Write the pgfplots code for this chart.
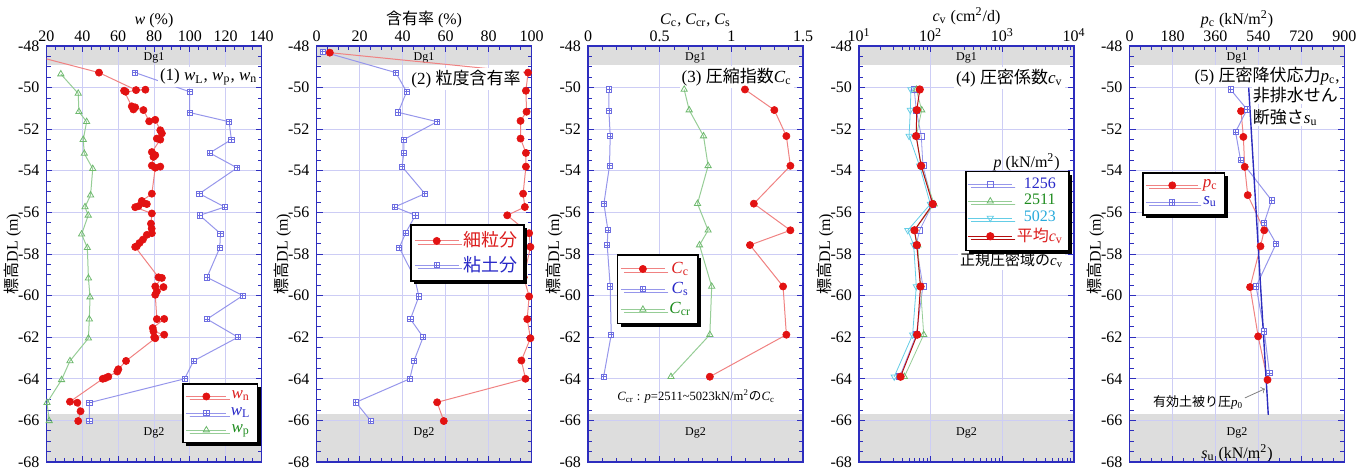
\documentclass[border=0pt]{standalone}
\usepackage{pgfplots}
\pgfplotsset{compat=1.18}
\usepackage{fontspec}
\setmainfont{Liberation Serif}
\newfontfamily\jp{Noto Sans CJK JP}
\usetikzlibrary{shadows}
\definecolor{redm}{RGB}{226,18,18}
\definecolor{redl}{RGB}{240,130,130}
\definecolor{bluem}{RGB}{110,110,225}
\definecolor{bluel}{RGB}{150,150,235}
\definecolor{greenm}{RGB}{110,185,110}
\definecolor{greenl}{RGB}{150,205,150}
\definecolor{cyanm}{RGB}{100,205,230}
\definecolor{axc}{RGB}{45,45,190}
\definecolor{gridc}{RGB}{205,205,245}
\definecolor{bandc}{RGB}{221,221,221}
\definecolor{legred}{RGB}{220,30,30}
\definecolor{legblue}{RGB}{40,40,200}
\definecolor{leggreen}{RGB}{30,140,30}
\definecolor{legcyan}{RGB}{40,170,220}
\newcommand{\sub}[2]{\textit{#1}\textsubscript{#2}}
\pgfdeclareplotmark{boxplus}{%
  \pgfpathrectangle{\pgfpoint{-\pgfplotmarksize}{-\pgfplotmarksize}}{\pgfpoint{2\pgfplotmarksize}{2\pgfplotmarksize}}%
  \pgfusepathqfillstroke
  \pgfpathmoveto{\pgfpoint{-\pgfplotmarksize}{0pt}}\pgfpathlineto{\pgfpoint{\pgfplotmarksize}{0pt}}%
  \pgfpathmoveto{\pgfpoint{0pt}{-\pgfplotmarksize}}\pgfpathlineto{\pgfpoint{0pt}{\pgfplotmarksize}}%
  \pgfusepathqstroke}
\tikzset{
  ann/.style={fill=white, inner sep=1pt, anchor=east, font=\fontsize{8.5}{10}\selectfont},
  dg/.style={font=\fontsize{6}{7}\selectfont},
}
\pgfplotsset{
  leglen/.style={legend image code/.code={%
    \draw[mark repeat=2,mark phase=2] plot coordinates {(0pt,0pt) (#1,0pt) (2*#1,0pt)};}},
  panel/.style={
    set layers,
    scale only axis, width=107.5pt, height=208pt,
    anchor=north west,
    ymin=-68, ymax=-48,
    ytick={-68,-66,...,-48},
    yticklabels={-68,-66,-64,-62,-60,-58,-56,-54,-52,-50,-48},
    minor y tick num=3,
    xticklabel pos=upper,
    grid=major,
    major grid style={draw=gridc, line width=0.5pt},
    axis line style={draw=axc, line width=0.9pt},
    tick style={draw=axc, line width=0.5pt},
    major tick length=3pt, minor tick length=2pt,
    tick label style={font=\fontsize{8}{9}\selectfont},
    xticklabel style={yshift=-1.5pt},
    label style={font=\fontsize{8}{9}\selectfont},
    xlabel style={yshift=-5pt},
    ylabel={{\jp 標高}DL (m)},
    ylabel style={at={(axis description cs:0,0.5)}, anchor=center, yshift=17pt},
    /pgf/number format/assume math mode=true,
    legend style={draw=black, line width=0.8pt, fill=white,
      font=\fontsize{8.5}{9.5}\selectfont,
      drop shadow={shadow xshift=1.6pt, shadow yshift=-1.6pt, fill=black, opacity=1},
      inner sep=1.5pt, row sep=-1pt},
  },
  rl/.style={redl, line width=0.5pt, mark=*, mark size=1.8pt, mark options={fill=redm, draw=redm, line width=0.3pt}},
  bl/.style={bluel, line width=0.5pt, mark=boxplus, mark size=1.3pt, mark options={draw=bluem, fill=white, line width=0.4pt}},
  gl/.style={greenl, line width=0.5pt, mark=triangle, mark size=1.8pt, mark options={draw=greenm, fill=white, line width=0.4pt}},
}
\begin{document}
\begin{tikzpicture}
% ---------------- Panel 1 ----------------
\begin{axis}[panel, at={(23.25pt,-23pt)},
  xmin=20, xmax=140, xtick={20,40,...,140}, minor x tick num=3,
  xlabel={\textit{w} (\%)},
  legend style={at={(0.985,0.045)}, anchor=south east},
  leglen=10pt]
\begin{pgfonlayer}{axis background}
\fill[bandc] (axis cs:20,-48) rectangle (axis cs:140,-48.9);
\fill[bandc] (axis cs:20,-65.7) rectangle (axis cs:140,-68);
\end{pgfonlayer}
\node[dg] at (axis cs:80,-48.55) {Dg1};
\node[dg] at (axis cs:80,-66.6) {Dg2};
\addplot[rl] coordinates {
(8,-48.35) (49.3,-49.28) (70.0,-50.12) (75.2,-50.1) (64.2,-50.2) (63.3,-50.15)
(67.6,-50.9) (68.5,-51.05) (69.5,-50.95) (74.1,-51.08)
(77.3,-51.62) (80.7,-51.55)
(83.5,-52.05) (84.4,-52.2) (81.6,-52.45) (83.5,-52.5)
(78.8,-53.1) (80.7,-53.25) (79.7,-53.33)
(78.8,-53.75) (83.5,-53.8) (80.7,-53.85)
(78.8,-55.1)
(73.2,-55.45) (74.1,-55.55) (76.0,-55.6) (71.3,-55.7) (69.5,-55.75)
(78.8,-56.05)
(78.3,-56.54) (78.7,-56.78) (78.8,-57.0) (76.0,-57.08) (73.8,-57.31) (71.9,-57.47) (70.4,-57.63) (69.5,-57.66)
(82.5,-59.12) (84.4,-59.15) (80.7,-59.56) (85.3,-59.59) (81.6,-59.8) (80.7,-59.96)
(81.6,-61.13) (85.7,-61.12) (79.3,-61.56) (79.7,-61.72) (85.7,-61.88) (80.1,-62.0) (80.7,-62.05)
(64.4,-63.14) (60.1,-63.54) (59.5,-63.65) (54.5,-63.9) (52.7,-63.97) (51.4,-64.0)
(33.1,-65.1) (37.2,-65.15) (39.0,-65.56) (37.7,-66.03)
};
\addlegendentry{\textcolor{legred}{\sub{w}{n}}}
\addplot[bl] coordinates {
(69.5,-49.28) (99.9,-50.2) (99.9,-51.2) (121.9,-51.64) (123.2,-52.5) (111.1,-53.14)
(126.4,-53.86) (105.3,-55.1) (119.5,-55.74) (105.5,-56.14) (117.1,-57.02) (116.7,-57.7)
(109.6,-59.12) (129.6,-60.0) (109.6,-61.13) (126.9,-62.0) (102.1,-63.14) (97.1,-64.0)
(43.9,-65.15) (43.9,-66.03)
};
\addlegendentry{\textcolor{legblue}{\sub{w}{L}}}
\addplot[gl] coordinates {
(28.0,-49.35) (37.7,-50.28) (38.1,-51.16) (42.4,-51.64) (40.5,-52.5) (41.1,-53.17)
(45.8,-53.9) (44.6,-55.17) (41.5,-55.74) (43.3,-56.14) (39.6,-57.05) (42.8,-57.7)
(43.4,-59.16) (44.3,-60.07) (43.9,-61.13) (43.4,-62.05) (33.1,-63.14) (28.4,-64.05)
(20.3,-65.15) (21.5,-66.02)
};
\addlegendentry{\textcolor{leggreen}{\sub{w}{p}}}
\node[ann] at (axis cs:139,-49.5) {(1) \sub{w}{L}, \sub{w}{p}, \sub{w}{n}};
\end{axis}
% ---------------- Panel 2 ----------------
\begin{axis}[panel, at={(158.25pt,-23pt)},
  xmin=0, xmax=100, xtick={0,20,...,100}, minor x tick num=3,
  xlabel={{\jp 含有率} (\%)},
  legend style={at={(0.97,0.572)}, anchor=north east, font=\fontsize{9}{10}\selectfont},
  leglen=11pt]
\begin{pgfonlayer}{axis background}
\fill[bandc] (axis cs:0,-48) rectangle (axis cs:100,-48.9);
\fill[bandc] (axis cs:0,-65.7) rectangle (axis cs:100,-68);
\end{pgfonlayer}
\node[dg] at (axis cs:50,-48.55) {Dg1};
\node[dg] at (axis cs:50,-66.6) {Dg2};
\addplot[rl] coordinates {
(6.2,-48.32) (98.4,-49.28) (97.4,-50.15) (97.7,-51.16) (94.9,-51.6) (94.9,-52.45)
(97.4,-53.14) (97.4,-53.8) (96.1,-55.1) (96.9,-55.74) (88.7,-56.14) (98.9,-57.0)
(99.5,-57.66) (96.4,-59.12) (98.9,-60.04) (98.0,-61.13) (99.5,-62.05) (95.3,-63.12)
(97.2,-64.0) (56.1,-65.13) (59.2,-66.03)
};
\addlegendentry{\textcolor{legred}{\jp 細粒分}}
\addplot[bl] coordinates {
(2.8,-48.27) (36.9,-49.28) (41.9,-50.2) (38.0,-51.19) (56.1,-51.64) (40.6,-52.5)
(40.6,-53.14) (39.8,-53.8) (50.4,-55.1) (36.4,-55.74) (46.0,-56.14) (41.4,-57.0)
(38.5,-57.7) (45.7,-59.16) (47.6,-60.04) (43.7,-61.13) (49.6,-62.0) (45.4,-63.12)
(43.4,-64.0) (18.3,-65.13) (25.3,-66.03)
};
\addlegendentry{\textcolor{legblue}{\jp 粘土分}}
\node[ann] at (axis cs:96,-49.6) {(2) {\jp 粒度含有率}};
\end{axis}
% ---------------- Panel 3 ----------------
\begin{axis}[panel, at={(294pt,-23pt)},
  xmin=0, xmax=1.5, xtick={0,0.5,1,1.5}, xticklabels={0,0.5,1,1.5}, minor x tick num=4,
  xlabel={\sub{C}{c}, \sub{C}{cr}, \sub{C}{s}},
  legend style={at={(0.133,0.5)}, anchor=north west},
  leglen=11pt]
\begin{pgfonlayer}{axis background}
\fill[bandc] (axis cs:0,-48) rectangle (axis cs:1.5,-48.9);
\fill[bandc] (axis cs:0,-65.7) rectangle (axis cs:1.5,-68);
\end{pgfonlayer}
\node[dg] at (axis cs:0.75,-48.55) {Dg1};
\node[dg] at (axis cs:0.75,-66.6) {Dg2};
\addplot[rl] coordinates {
(1.095,-50.09) (1.30,-51.08) (1.384,-52.33) (1.412,-53.76) (1.157,-55.58)
(1.412,-56.86) (1.13,-57.57) (1.361,-59.56) (1.384,-61.88) (0.85,-63.9)
};
\addlegendentry{\textcolor{legred}{\sub{C}{c}}}
\addplot[bl] coordinates {
(0.146,-50.09) (0.146,-51.11) (0.155,-52.33) (0.150,-53.76) (0.111,-55.58)
(0.139,-56.86) (0.134,-57.57) (0.155,-59.56) (0.162,-61.88) (0.109,-63.9)
};
\addlegendentry{\textcolor{legblue}{\sub{C}{s}}}
\addplot[gl] coordinates {
(0.671,-50.09) (0.706,-51.08) (0.806,-52.33) (0.838,-53.76) (0.764,-55.58)
(0.838,-56.86) (0.778,-57.57) (0.863,-59.56) (0.85,-61.88) (0.579,-63.9)
};
\addlegendentry{\textcolor{leggreen}{\sub{C}{cr}}}
\node[ann] at (axis cs:1.437,-49.5) {(3) {\jp 圧縮指数}\sub{C}{c}};
\node[font=\fontsize{6.3}{7}\selectfont, inner sep=0pt] at (axis cs:0.755,-64.86)
  {\sub{C}{cr} : \textit{p}=2511\textasciitilde 5023kN/m\textsuperscript{2}{\jp の}\sub{C}{c}};
\end{axis}
% ---------------- Panel 4 ----------------
\begin{axis}[panel, at={(429.5pt,-23pt)},
  xmode=log, xmin=10, xmax=10000, xtick={10,100,1000,10000},
  xticklabels={10\textsuperscript{1},10\textsuperscript{2},10\textsuperscript{3},10\textsuperscript{4}},
  xlabel={\sub{c}{v} (cm\textsuperscript{2}/d)},
  legend style={at={(0.98,0.70)}, anchor=north east, font=\fontsize{8}{8.5}\selectfont, row sep=-2.4pt, inner sep=1pt},
  leglen=11pt]
\begin{pgfonlayer}{axis background}
\fill[bandc] (axis cs:10,-48) rectangle (axis cs:10000,-48.9);
\fill[bandc] (axis cs:10,-65.7) rectangle (axis cs:10000,-68);
\end{pgfonlayer}
\node[dg] at (axis cs:316,-48.55) {Dg1};
\node[dg] at (axis cs:316,-66.6) {Dg2};
\addplot[bluel, line width=0.4pt, mark=square, mark size=1.5pt, mark options={draw=bluem, fill=white}] coordinates {
(59,-50.09) (63,-51.08) (74,-52.33) (78,-53.76) (107,-55.6) (70,-56.86) (63,-57.57) (78,-59.56) (63,-61.88) (37,-63.9)
};
\addlegendentry{\textcolor{legblue}{1256}}
\addplot[greenl, line width=0.4pt, mark=triangle, mark size=1.8pt, mark options={draw=greenm, fill=white}] coordinates {
(63,-50.09) (75,-51.08) (63,-52.33) (74,-53.76) (112,-55.6) (59,-56.86) (66,-57.57) (72,-59.56) (80,-61.88) (43,-63.9)
};
\addlegendentry{\textcolor{leggreen}{2511}}
\addplot[cyanm, line width=0.4pt, mark=triangle, mark size=1.8pt, mark options={draw=cyanm, fill=white, rotate=180}] coordinates {
(53,-50.09) (52,-51.08) (50,-52.33) (70,-53.76) (99,-55.6) (48,-56.86) (58,-57.57) (63,-59.56) (56,-61.88) (31,-63.9)
};
\addlegendentry{\textcolor{legcyan}{5023}}
\addplot[redm!80!black, line width=0.5pt, mark=*, mark size=1.8pt, mark options={fill=redm, draw=redm}] coordinates {
(70.5,-50.09) (64.1,-51.08) (62.7,-52.33) (73.6,-53.76) (107,-55.6) (59.4,-56.86) (64.1,-57.57) (72.1,-59.56) (64.7,-61.88) (38,-63.9)
};
\addlegendentry{\textcolor{legred}{{\jp 平均}\sub{c}{v}}}
\node[ann] at (axis cs:7500,-49.54) {(4) {\jp 圧密係数}\sub{c}{v}};
\node[font=\fontsize{8}{9}\selectfont] at (axis cs:2190,-53.6) {\textit{p} (kN/m\textsuperscript{2})};
\node[font=\fontsize{7.5}{9}\selectfont, fill=white, inner sep=1pt] at (axis cs:1350,-58.3) {{\jp 正規圧密域の}\sub{c}{v}};
\end{axis}
% ---------------- Panel 5 ----------------
\begin{axis}[panel, at={(564.75pt,-23pt)},
  xmin=0, xmax=900, xtick={0,180,...,900}, minor x tick num=3,
  xlabel={\sub{p}{c} (kN/m\textsuperscript{2})},
  legend style={at={(0.058,0.697)}, anchor=north west},
  leglen=13pt]
\begin{pgfonlayer}{axis background}
\fill[bandc] (axis cs:0,-48) rectangle (axis cs:900,-48.9);
\fill[bandc] (axis cs:0,-65.7) rectangle (axis cs:900,-68);
\end{pgfonlayer}
\node[dg] at (axis cs:450,-48.55) {Dg1};
\node[dg] at (axis cs:450,-66.6) {Dg2};
\node[font=\fontsize{8}{9}\selectfont] at (axis cs:450,-67.58) {\sub{s}{u} (kN/m\textsuperscript{2})};
\addplot[rl] coordinates {
(466.9,-51.13) (476.7,-52.37) (482.3,-53.81) (494.9,-55.17) (563.9,-56.86)
(548.4,-57.63) (504.8,-59.59) (538.6,-61.96) (577.9,-64.05)
};
\addlegendentry{\textcolor{legred}{\sub{p}{c}}}
\addplot[bl] coordinates {
(423,-50.09) (492,-51.05) (444,-52.13) (465,-53.49) (595,-55.42) (564,-56.5)
(614,-57.5) (530,-59.56) (564,-61.72) (586,-63.73)
};
\addlegendentry{\textcolor{legblue}{\sub{s}{u}}}
\addplot[axc, line width=0.7pt, forget plot] coordinates {(499,-50.0) (581,-65.73)};
\node[ann] at (axis cs:890,-49.45) {(5) {\jp 圧密降伏応力}\sub{p}{c},};
\node[ann, anchor=west, inner sep=0.5pt] at (axis cs:511,-50.38) {\jp 非排水せん};
\node[ann, anchor=west, inner sep=0.5pt] at (axis cs:511,-51.42) {{\jp 断強さ}\sub{s}{u}};
\node[font=\fontsize{6.5}{7}\selectfont, anchor=east, inner sep=0.5pt] at (axis cs:482,-65.15) {{\jp 有効土被り圧}\sub{p}{0}};
\draw[->, gray, line width=0.4pt] (axis cs:483,-64.92) -- (axis cs:567,-64.48);
\end{axis}
\pgfresetboundingbox
\useasboundingbox (0,0) rectangle (678.5pt,-233.5pt);
\end{tikzpicture}
\end{document}
